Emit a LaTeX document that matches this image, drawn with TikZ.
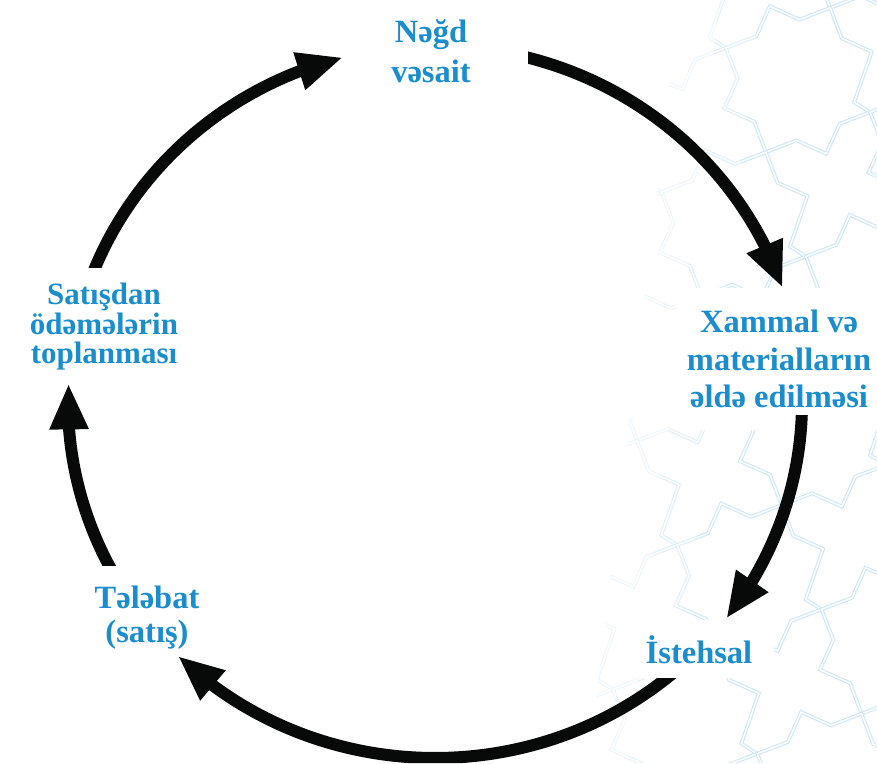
\documentclass[tikz,border=0pt]{standalone}
\usepackage{fontspec}
\setmainfont{Liberation Serif}
\usetikzlibrary{arrows.meta,bending}
\definecolor{lblue}{RGB}{26,141,207}
\definecolor{patc}{RGB}{204,232,250}
\definecolor{ink}{RGB}{8,9,9}
\newcommand\starpattern[1]{%
  \foreach \i in {-2,...,2}{\foreach \j in {-1,...,5}{
    \draw[pat=#1, shift={(798+\i*144.3-\j*64.3, 80+\i*64.3+\j*144.3)}]
      (24:79) \foreach \k in {0,...,6}{ -- ({46.5+45*\k}:60.4) -- ({69+45*\k}:79) } -- (381.5:60.4) -- cycle;
  }}}
\begin{document}
\begin{tikzpicture}[x=1pt,y=-1pt,
  lbl/.style={text=lblue, font=\bfseries\fontsize{32.5}{#1}\selectfont, align=center, inner sep=0pt, fill=white},
  cyc/.style={line width=12pt, draw=ink, -{Triangle[length=46pt,width=36pt,flex]}},
  pat/.style={draw=#1, line width=1.1pt, double=white, double distance=1.5pt, line join=miter},
]
\useasboundingbox (0,0) rectangle (877,763);
\fill[white] (0,0) rectangle (877,763);
% faint background pattern, fading to the left
\begin{scope}
  \clip (680,0) -- (720,0) -- (628.4,763) -- (588.4,763) -- cycle;
  \starpattern{patc!35}
\end{scope}
\begin{scope}
  \clip (720,0) -- (760,0) -- (668.4,763) -- (628.4,763) -- cycle;
  \starpattern{patc!65}
\end{scope}
\begin{scope}
  \clip (760,0) -- (877,0) -- (877,763) -- (668.4,763) -- cycle;
  \starpattern{patc}
\end{scope}
% labels
\node[lbl=40] (cash) at (431,51.5) {Nəğd\\vəsait};
\node[lbl=37.5, inner xsep=10pt, inner ysep=22pt] (raw) at (779,359) {Xammal və\\materialların\\əldə edilməsi};
\node[lbl=37, anchor=base, inner xsep=22pt, inner ysep=15pt] (prod) at (699,663) {İstehsal};
\node[lbl=34] (demand) at (147,617.5) {Tələbat\\(satış)};
\node[lbl=29.5, font=\bfseries\fontsize{31}{29.5}\selectfont] (collect) at (104,327) {Satışdan\\ödəmələrin\\toplanması};
% cycle arcs
\coordinate (O) at (435,402);
\coordinate (s1) at ([shift={(198:367 and 356)}]O);
\coordinate (s2) at ([shift={(281:367 and 356)}]O);
\coordinate (s3) at ([shift={(358:367 and 356)}]O);
\coordinate (s4) at ([shift={(46:367 and 356)}]O);
\coordinate (s5) at ([shift={(149:367 and 356)}]O);
\begin{scope}
  \clip (0,0) rectangle (877,267);
  \draw[cyc] (s1) arc[start angle=198, end angle=255.5, x radius=367, y radius=356];
\end{scope}
\begin{scope}
  \clip (528,0) rectangle (877,763);
  \draw[cyc] (s2) arc[start angle=281, end angle=341.3, x radius=367, y radius=356];
\end{scope}
\begin{scope}
  \clip (0,415) rectangle (877,763);
  \draw[cyc] (s3) arc[start angle=358, end angle=397.5, x radius=367, y radius=356];
\end{scope}
\begin{scope}
  \clip (0,0) -- (560,0) -- (560,678) -- (877,678) -- (877,763) -- (0,763) -- cycle;
  \draw[cyc] (s4) arc[start angle=46, end angle=134.5, x radius=367, y radius=356];
\end{scope}
\begin{scope}
  \clip (0,0) rectangle (877,565);
  \draw[cyc] (s5) arc[start angle=149, end angle=183, x radius=367, y radius=356];
\end{scope}
\end{tikzpicture}
\end{document}
